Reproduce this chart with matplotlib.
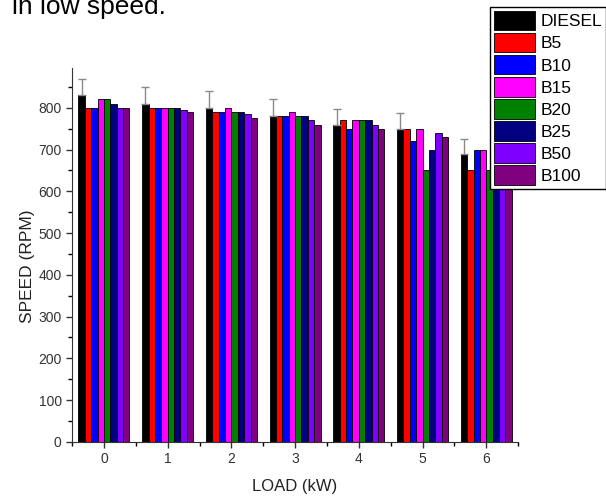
import numpy as np
import matplotlib.pyplot as plt
from matplotlib.ticker import MultipleLocator

plt.rcParams['font.family'] = ['Liberation Sans', 'DejaVu Sans']

# data
loads = [0, 1, 2, 3, 4, 5, 6]
fuels = ["DIESEL", "B5", "B10", "B15", "B20", "B25", "B50", "B100"]
colors = ["#000000", "#ff0000", "#0000ff", "#ff00ff", "#008000", "#000080", "#8000ff", "#800080"]

diesel = [830, 810, 800, 780, 760, 750, 690]
b5 = [800, 800, 790, 780, 770, 750, 650]
b10 = [800, 800, 790, 780, 750, 720, 700]
b15 = [820, 800, 800, 790, 770, 750, 700]
b20 = [820, 800, 790, 780, 770, 650, 650]
b25 = [810, 800, 790, 780, 770, 700, 640]
b50 = [800, 795, 785, 770, 760, 740, 650]
b100 = [800, 790, 775, 760, 750, 730, 640]
diesel_err = [40, 40, 40, 40, 38, 38, 35]

series = [diesel, b5, b10, b15, b20, b25, b50, b100]

fig = plt.figure(figsize=(6.06, 5.01), dpi=100)
ax = fig.add_axes([0.119, 0.118, 0.736, 0.746])

x = np.arange(len(loads))
w = 0.1
for i, (vals, c, name) in enumerate(zip(series, colors, fuels)):
    pos = x - 0.4 + w * (i + 0.5)
    ax.bar(pos, vals, width=w, color=c, edgecolor="black", linewidth=0.6, label=name)
    if i == 0:
        ax.errorbar(pos, vals, yerr=[np.zeros(len(vals)), diesel_err], fmt="none",
                    ecolor="#8a8a8a", elinewidth=1, capsize=3, capthick=1)

ax.set_xlim(-0.5, 6.5)
ax.set_ylim(0, 895)
ax.set_xticks(x)
ax.set_xticklabels([str(l) for l in loads])
ax.xaxis.set_minor_locator(MultipleLocator(0.5))
ax.yaxis.set_major_locator(MultipleLocator(100))
ax.yaxis.set_minor_locator(MultipleLocator(50))
ax.tick_params(which="both", direction="out", labelsize=10, width=1, pad=3)
ax.tick_params(which="major", length=4.5)
ax.tick_params(which="minor", length=3)
ax.tick_params(colors="#333333", labelcolor="#333333")
ax.spines["top"].set_visible(False)
ax.spines["right"].set_visible(False)
ax.spines["left"].set_color("#333333")
ax.spines["bottom"].set_color("#333333")
ax.set_xlabel("LOAD (kW)", fontsize=12, labelpad=9, color="#222222")
ax.set_ylabel("SPEED (RPM)", fontsize=12.5, labelpad=5, color="#222222")
ax.yaxis.set_label_coords(-0.083, 0.47)

leg = fig.legend(loc="upper left", bbox_to_anchor=(490 / 606, 1 - 7 / 501), fontsize=12.5,
                 handlelength=2.4, handleheight=1.35, labelspacing=0.15, borderpad=0.22,
                 handletextpad=0.3, borderaxespad=0, fancybox=False, framealpha=1)
leg.get_frame().set_edgecolor("black")
leg.get_frame().set_linewidth(1)

fig.text(12 / 606, 1 - 14 / 501, "in low speed.", fontsize=19, va="baseline", ha="left")

fig.savefig("out.png", dpi=100)
